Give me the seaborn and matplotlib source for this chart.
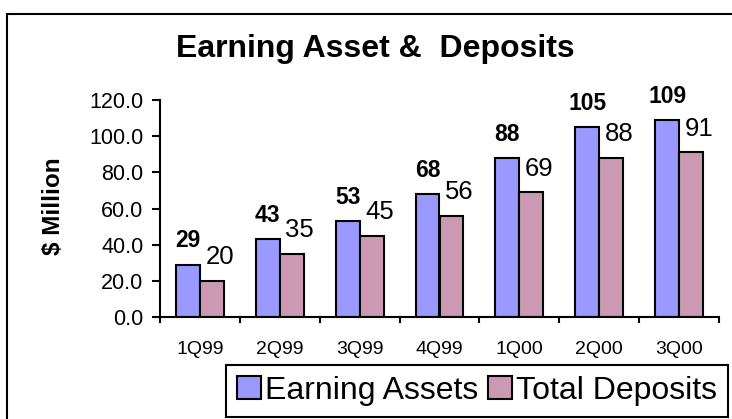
import pandas as pd
import matplotlib.pyplot as plt
import seaborn as sns
from matplotlib.patches import Rectangle
from matplotlib.ticker import FormatStrFormatter

# chart values
quarters = ['1Q99', '2Q99', '3Q99', '4Q99', '1Q00', '2Q00', '3Q00']
earning_assets = [29, 43, 53, 68, 88, 105, 109]
total_deposits = [20, 35, 45, 56, 69, 88, 91]
series_names = ['Earning Assets', 'Total Deposits']
colors = ['#9999FF', '#CC99B3']

df = pd.DataFrame({
    'Quarter': quarters * 2,
    'Value': earning_assets + total_deposits,
    'Series': [series_names[0]] * len(quarters) + [series_names[1]] * len(quarters),
})

sns.set_style('white')
plt.rcParams['font.family'] = ['Liberation Sans', 'DejaVu Sans']
plt.rcParams.update({'text.color': 'black', 'axes.labelcolor': 'black',
                     'xtick.color': 'black', 'ytick.color': 'black'})

fig = plt.figure(figsize=(7.32, 4.19), dpi=100)
ax = fig.add_axes([160 / 732, 1 - 317 / 419, 559 / 732, 217 / 419])

sns.barplot(data=df, x='Quarter', y='Value', hue='Series', order=quarters,
            hue_order=series_names, palette=colors, width=0.6,
            edgecolor='black', linewidth=1.5, saturation=1, ax=ax)

# value labels: bold for assets, regular for deposits
label_style = [dict(fontsize=16.5, fontweight='bold', dx=0),
               dict(fontsize=18.5, fontweight='normal', dx=8)]
for cont, st in zip(ax.containers, label_style):
    for p in cont:
        h = p.get_height()
        ax.annotate(f'{h:.0f}', (p.get_x() + p.get_width() / 2, h),
                    xytext=(st['dx'] * 0.72, 17), textcoords='offset points',
                    ha='center', va='center', fontsize=st['fontsize'],
                    fontweight=st['fontweight'], color='black')

ax.set_ylim(0, 120)
ax.set_xlim(-0.5, len(quarters) - 0.5)
ax.set_yticks(range(0, 121, 20))
ax.yaxis.set_major_formatter(FormatStrFormatter('%.1f'))
ax.set_xlabel('')
ax.set_ylabel('')

for side in ['top', 'right']:
    ax.spines[side].set_visible(False)
for side in ['left', 'bottom']:
    ax.spines[side].set_linewidth(1.5)
    ax.spines[side].set_color('black')

ax.tick_params(axis='y', which='major', left=True, direction='out', length=6,
               width=1.5, pad=6, labelsize=15.5, colors='black')
ax.tick_params(axis='x', which='major', bottom=False, length=0, pad=17,
               labelsize=14, colors='black')
ax.set_xticks([i - 0.5 for i in range(len(quarters) + 1)], minor=True)
ax.tick_params(axis='x', which='minor', bottom=True, direction='out',
               length=4.5, width=1.5, color='black')

# legend in a box at the bottom right
handles, labels = ax.get_legend_handles_labels()
ax.get_legend().remove()
leg = fig.legend(handles, labels, ncol=2, loc='lower right',
                 bbox_to_anchor=(728 / 732, 2 / 419), fontsize=23,
                 frameon=True, fancybox=False, edgecolor='black',
                 handlelength=0.75, handleheight=0.75, handletextpad=0.12,
                 columnspacing=0.3, borderpad=0.35, borderaxespad=0)
leg.get_frame().set_linewidth(1.5)
leg.get_frame().set_alpha(None)

fig.text(375 / 732, 1 - 57 / 419, 'Earning Asset &  Deposits', ha='center',
         va='baseline', fontsize=23, fontweight='bold')
fig.text(53 / 732, 1 - 206 / 419, '$ Million', ha='center', va='center',
         rotation=90, fontsize=17.5, fontweight='bold')

# outer chart border (left and top edges fall inside the picture)
fig.patches.append(Rectangle((7 / 732, -0.1), 1.2, 1 - 14 / 419 + 0.1,
                             transform=fig.transFigure, fill=False,
                             edgecolor='black', linewidth=1.5))

fig.savefig('out.png', dpi=100)
